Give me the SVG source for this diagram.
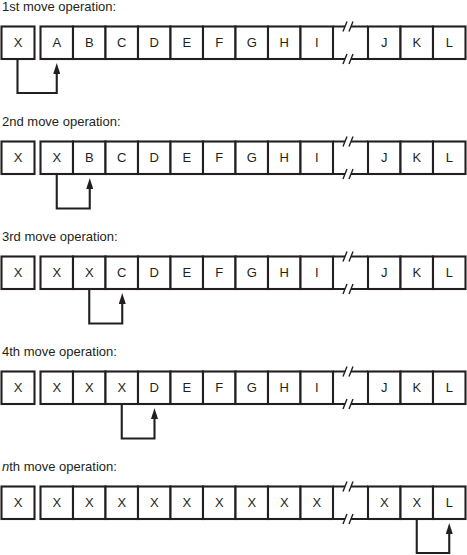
<svg xmlns="http://www.w3.org/2000/svg" width="467" height="555" viewBox="0 0 467 555">
<defs>
<style>
.cell rect{fill:#fff;stroke:#231f20;stroke-width:2.1}
.cell text{font-family:"Liberation Sans",Arial,sans-serif;font-size:13px;fill:#231f20;text-anchor:middle}
.title{font-family:"Liberation Sans",Arial,sans-serif;font-size:13px;fill:#231f20}
.brk{stroke:#231f20;stroke-width:2.1;fill:none}
.sl{stroke:#231f20;stroke-width:1.4;fill:none}
.conn{stroke:#231f20;stroke-width:2.1;fill:none;marker-end:url(#ah)}
</style>
<marker id="ah" viewBox="0 0 11 7" refX="3" refY="3.5" markerWidth="11" markerHeight="7" markerUnits="userSpaceOnUse" orient="auto">
<path d="M0,0 L11,3.5 L0,7 z" fill="#231f20"/>
</marker>
<g id="gapmark">
<path class="brk" d="M333,0 H345 M351,0 H368"/>
<path class="sl" d="M343,5 L347,-5 M349,5 L353,-5"/>
</g>
</defs>
<rect width="467" height="555" fill="#fff"/>

<!-- Row 1 -->
<g id="row1">
<text class="title" x="2" y="11">1st move operation:</text>
<g id="r1-x" class="cell" transform="translate(1.5,26.5)"><rect width="33" height="32.5"/><text x="16.5" y="20.5">X</text></g>
<g id="r1-a" class="cell" transform="translate(40.5,26.5)"><rect width="32.5" height="32.5"/><text x="16.25" y="20.5">A</text></g>
<g id="r1-b" class="cell" transform="translate(73,26.5)"><rect width="32.5" height="32.5"/><text x="16.25" y="20.5">B</text></g>
<g id="r1-c" class="cell" transform="translate(105.5,26.5)"><rect width="32.5" height="32.5"/><text x="16.25" y="20.5">C</text></g>
<g id="r1-d" class="cell" transform="translate(138,26.5)"><rect width="32.5" height="32.5"/><text x="16.25" y="20.5">D</text></g>
<g id="r1-e" class="cell" transform="translate(170.5,26.5)"><rect width="32.5" height="32.5"/><text x="16.25" y="20.5">E</text></g>
<g id="r1-f" class="cell" transform="translate(203,26.5)"><rect width="32.5" height="32.5"/><text x="16.25" y="20.5">F</text></g>
<g id="r1-g" class="cell" transform="translate(235.5,26.5)"><rect width="32.5" height="32.5"/><text x="16.25" y="20.5">G</text></g>
<g id="r1-h" class="cell" transform="translate(268,26.5)"><rect width="32.5" height="32.5"/><text x="16.25" y="20.5">H</text></g>
<g id="r1-i" class="cell" transform="translate(300.5,26.5)"><rect width="32.5" height="32.5"/><text x="16.25" y="20.5">I</text></g>
<g id="r1-gap"><use href="#gapmark" transform="translate(0,26.5)"/><use href="#gapmark" transform="translate(0,59)"/></g>
<g id="r1-j" class="cell" transform="translate(368,26.5)"><rect width="32.5" height="32.5"/><text x="16.25" y="20.5">J</text></g>
<g id="r1-k" class="cell" transform="translate(400.5,26.5)"><rect width="32.5" height="32.5"/><text x="16.25" y="20.5">K</text></g>
<g id="r1-l" class="cell" transform="translate(433,26.5)"><rect width="32.5" height="32.5"/><text x="16.25" y="20.5">L</text></g>
</g>

<!-- Row 2 -->
<g id="row2" transform="translate(0,115)">
<text class="title" x="2" y="11">2nd move operation:</text>
<g id="r2-x" class="cell" transform="translate(1.5,26.5)"><rect width="33" height="32.5"/><text x="16.5" y="20.5">X</text></g>
<g id="r2-c0" class="cell" transform="translate(40.5,26.5)"><rect width="32.5" height="32.5"/><text x="16.25" y="20.5">X</text></g>
<g id="r2-b" class="cell" transform="translate(73,26.5)"><rect width="32.5" height="32.5"/><text x="16.25" y="20.5">B</text></g>
<g id="r2-c" class="cell" transform="translate(105.5,26.5)"><rect width="32.5" height="32.5"/><text x="16.25" y="20.5">C</text></g>
<g id="r2-d" class="cell" transform="translate(138,26.5)"><rect width="32.5" height="32.5"/><text x="16.25" y="20.5">D</text></g>
<g id="r2-e" class="cell" transform="translate(170.5,26.5)"><rect width="32.5" height="32.5"/><text x="16.25" y="20.5">E</text></g>
<g id="r2-f" class="cell" transform="translate(203,26.5)"><rect width="32.5" height="32.5"/><text x="16.25" y="20.5">F</text></g>
<g id="r2-g" class="cell" transform="translate(235.5,26.5)"><rect width="32.5" height="32.5"/><text x="16.25" y="20.5">G</text></g>
<g id="r2-h" class="cell" transform="translate(268,26.5)"><rect width="32.5" height="32.5"/><text x="16.25" y="20.5">H</text></g>
<g id="r2-i" class="cell" transform="translate(300.5,26.5)"><rect width="32.5" height="32.5"/><text x="16.25" y="20.5">I</text></g>
<g id="r2-gap"><use href="#gapmark" transform="translate(0,26.5)"/><use href="#gapmark" transform="translate(0,59)"/></g>
<g id="r2-j" class="cell" transform="translate(368,26.5)"><rect width="32.5" height="32.5"/><text x="16.25" y="20.5">J</text></g>
<g id="r2-k" class="cell" transform="translate(400.5,26.5)"><rect width="32.5" height="32.5"/><text x="16.25" y="20.5">K</text></g>
<g id="r2-l" class="cell" transform="translate(433,26.5)"><rect width="32.5" height="32.5"/><text x="16.25" y="20.5">L</text></g>
</g>

<!-- Row 3 -->
<g id="row3" transform="translate(0,230)">
<text class="title" x="2" y="11">3rd move operation:</text>
<g id="r3-x" class="cell" transform="translate(1.5,26.5)"><rect width="33" height="32.5"/><text x="16.5" y="20.5">X</text></g>
<g id="r3-c0" class="cell" transform="translate(40.5,26.5)"><rect width="32.5" height="32.5"/><text x="16.25" y="20.5">X</text></g>
<g id="r3-c1" class="cell" transform="translate(73,26.5)"><rect width="32.5" height="32.5"/><text x="16.25" y="20.5">X</text></g>
<g id="r3-c" class="cell" transform="translate(105.5,26.5)"><rect width="32.5" height="32.5"/><text x="16.25" y="20.5">C</text></g>
<g id="r3-d" class="cell" transform="translate(138,26.5)"><rect width="32.5" height="32.5"/><text x="16.25" y="20.5">D</text></g>
<g id="r3-e" class="cell" transform="translate(170.5,26.5)"><rect width="32.5" height="32.5"/><text x="16.25" y="20.5">E</text></g>
<g id="r3-f" class="cell" transform="translate(203,26.5)"><rect width="32.5" height="32.5"/><text x="16.25" y="20.5">F</text></g>
<g id="r3-g" class="cell" transform="translate(235.5,26.5)"><rect width="32.5" height="32.5"/><text x="16.25" y="20.5">G</text></g>
<g id="r3-h" class="cell" transform="translate(268,26.5)"><rect width="32.5" height="32.5"/><text x="16.25" y="20.5">H</text></g>
<g id="r3-i" class="cell" transform="translate(300.5,26.5)"><rect width="32.5" height="32.5"/><text x="16.25" y="20.5">I</text></g>
<g id="r3-gap"><use href="#gapmark" transform="translate(0,26.5)"/><use href="#gapmark" transform="translate(0,59)"/></g>
<g id="r3-j" class="cell" transform="translate(368,26.5)"><rect width="32.5" height="32.5"/><text x="16.25" y="20.5">J</text></g>
<g id="r3-k" class="cell" transform="translate(400.5,26.5)"><rect width="32.5" height="32.5"/><text x="16.25" y="20.5">K</text></g>
<g id="r3-l" class="cell" transform="translate(433,26.5)"><rect width="32.5" height="32.5"/><text x="16.25" y="20.5">L</text></g>
</g>

<!-- Row 4 -->
<g id="row4" transform="translate(0,345)">
<text class="title" x="2" y="11">4th move operation:</text>
<g id="r4-x" class="cell" transform="translate(1.5,26.5)"><rect width="33" height="32.5"/><text x="16.5" y="20.5">X</text></g>
<g id="r4-c0" class="cell" transform="translate(40.5,26.5)"><rect width="32.5" height="32.5"/><text x="16.25" y="20.5">X</text></g>
<g id="r4-c1" class="cell" transform="translate(73,26.5)"><rect width="32.5" height="32.5"/><text x="16.25" y="20.5">X</text></g>
<g id="r4-c2" class="cell" transform="translate(105.5,26.5)"><rect width="32.5" height="32.5"/><text x="16.25" y="20.5">X</text></g>
<g id="r4-d" class="cell" transform="translate(138,26.5)"><rect width="32.5" height="32.5"/><text x="16.25" y="20.5">D</text></g>
<g id="r4-e" class="cell" transform="translate(170.5,26.5)"><rect width="32.5" height="32.5"/><text x="16.25" y="20.5">E</text></g>
<g id="r4-f" class="cell" transform="translate(203,26.5)"><rect width="32.5" height="32.5"/><text x="16.25" y="20.5">F</text></g>
<g id="r4-g" class="cell" transform="translate(235.5,26.5)"><rect width="32.5" height="32.5"/><text x="16.25" y="20.5">G</text></g>
<g id="r4-h" class="cell" transform="translate(268,26.5)"><rect width="32.5" height="32.5"/><text x="16.25" y="20.5">H</text></g>
<g id="r4-i" class="cell" transform="translate(300.5,26.5)"><rect width="32.5" height="32.5"/><text x="16.25" y="20.5">I</text></g>
<g id="r4-gap"><use href="#gapmark" transform="translate(0,26.5)"/><use href="#gapmark" transform="translate(0,59)"/></g>
<g id="r4-j" class="cell" transform="translate(368,26.5)"><rect width="32.5" height="32.5"/><text x="16.25" y="20.5">J</text></g>
<g id="r4-k" class="cell" transform="translate(400.5,26.5)"><rect width="32.5" height="32.5"/><text x="16.25" y="20.5">K</text></g>
<g id="r4-l" class="cell" transform="translate(433,26.5)"><rect width="32.5" height="32.5"/><text x="16.25" y="20.5">L</text></g>
</g>

<!-- Row 5 -->
<g id="row5" transform="translate(0,460)">
<text class="title" x="2" y="11"><tspan font-style="italic">n</tspan>th move operation:</text>
<g id="r5-x" class="cell" transform="translate(1.5,26.5)"><rect width="33" height="32.5"/><text x="16.5" y="20.5">X</text></g>
<g id="r5-c0" class="cell" transform="translate(40.5,26.5)"><rect width="32.5" height="32.5"/><text x="16.25" y="20.5">X</text></g>
<g id="r5-c1" class="cell" transform="translate(73,26.5)"><rect width="32.5" height="32.5"/><text x="16.25" y="20.5">X</text></g>
<g id="r5-c2" class="cell" transform="translate(105.5,26.5)"><rect width="32.5" height="32.5"/><text x="16.25" y="20.5">X</text></g>
<g id="r5-c3" class="cell" transform="translate(138,26.5)"><rect width="32.5" height="32.5"/><text x="16.25" y="20.5">X</text></g>
<g id="r5-c4" class="cell" transform="translate(170.5,26.5)"><rect width="32.5" height="32.5"/><text x="16.25" y="20.5">X</text></g>
<g id="r5-c5" class="cell" transform="translate(203,26.5)"><rect width="32.5" height="32.5"/><text x="16.25" y="20.5">X</text></g>
<g id="r5-c6" class="cell" transform="translate(235.5,26.5)"><rect width="32.5" height="32.5"/><text x="16.25" y="20.5">X</text></g>
<g id="r5-c7" class="cell" transform="translate(268,26.5)"><rect width="32.5" height="32.5"/><text x="16.25" y="20.5">X</text></g>
<g id="r5-c8" class="cell" transform="translate(300.5,26.5)"><rect width="32.5" height="32.5"/><text x="16.25" y="20.5">X</text></g>
<g id="r5-gap"><use href="#gapmark" transform="translate(0,26.5)"/><use href="#gapmark" transform="translate(0,59)"/></g>
<g id="r5-c9" class="cell" transform="translate(368,26.5)"><rect width="32.5" height="32.5"/><text x="16.25" y="20.5">X</text></g>
<g id="r5-c10" class="cell" transform="translate(400.5,26.5)"><rect width="32.5" height="32.5"/><text x="16.25" y="20.5">X</text></g>
<g id="r5-l" class="cell" transform="translate(433,26.5)"><rect width="32.5" height="32.5"/><text x="16.25" y="20.5">L</text></g>
</g>

<!-- Connectors -->
<g id="connectors">
<path class="conn" d="M17.5,59 V93 H56.75 V71"/>
<path class="conn" d="M56.75,174 V208.5 H89.75 V186"/>
<path class="conn" d="M89.25,289 V323.5 H122.25 V301"/>
<path class="conn" d="M121.75,404 V438.5 H154.5 V416"/>
<path class="conn" d="M416.75,519 V553 H449.25 V531"/>
</g>
</svg>
